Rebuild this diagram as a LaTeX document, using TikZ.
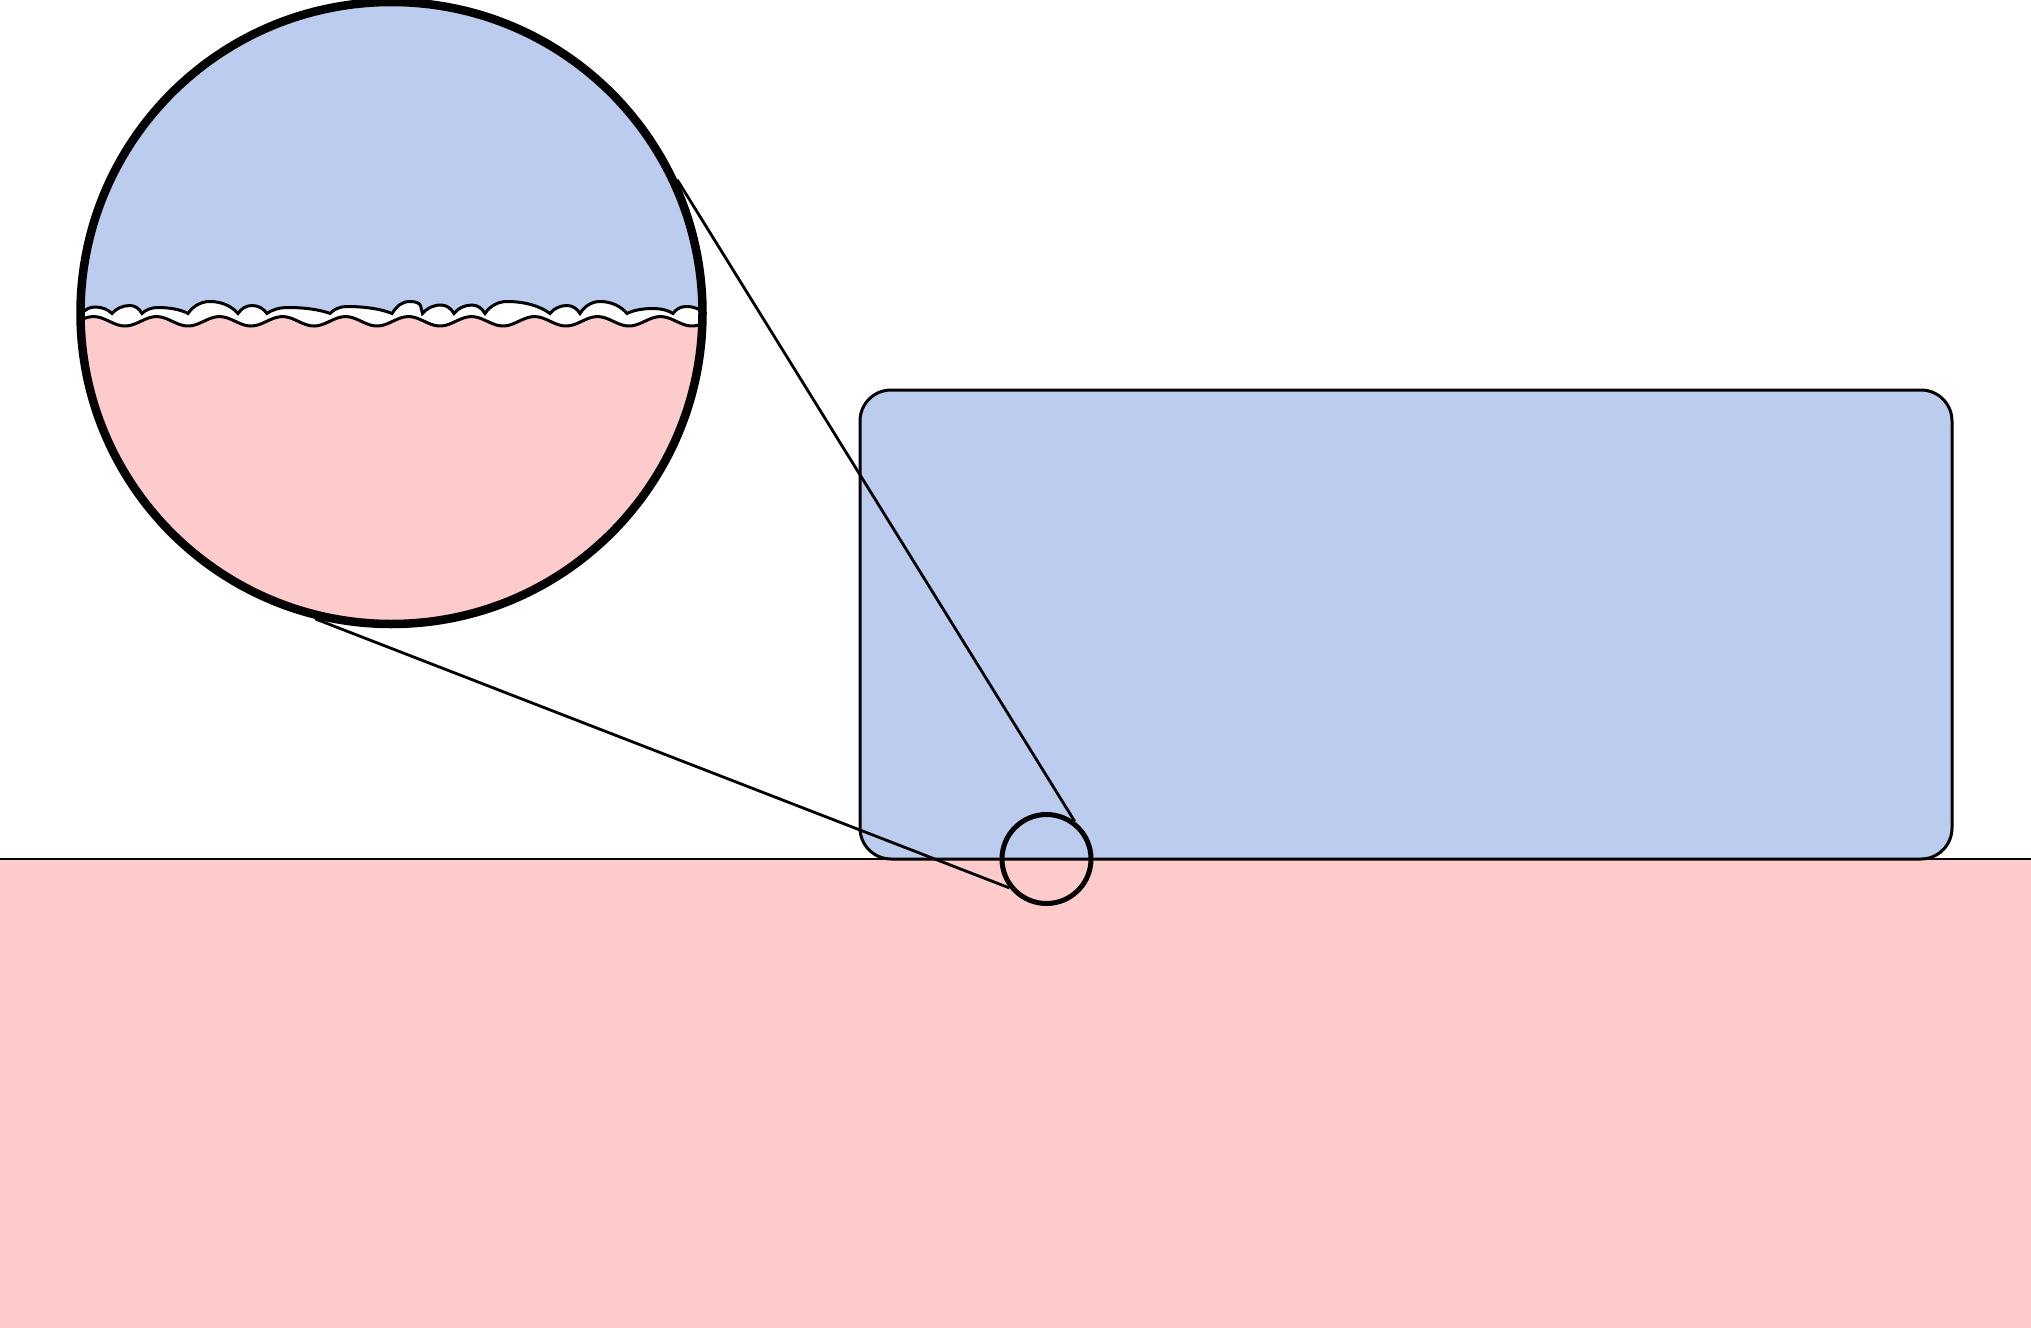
\documentclass[tikz,border=0pt]{standalone}
\usetikzlibrary{calc}
\definecolor{skyb}{HTML}{BCCCEE}
\definecolor{rosep}{HTML}{FDCBCB}
\def\bump#1#2#3#4{.. controls ({#1+0.22*(#2-#1)},{313.5-0.6*(313.5-#3)}) and ({#2-0.42*(#2-#1)},#3) .. (#2,#3) .. controls ({#2+0.42*(#4-#2)},#3) and ({#4-0.22*(#4-#2)},{313.5-0.6*(313.5-#3)}) .. (#4,313.5)}
\begin{document}
\begin{tikzpicture}[x=0.5pt,y=-0.5pt,
  thinline/.style={line width=1.4pt},
  waveline/.style={line width=1.5pt},
  lensbox/.style={circle,draw,line width=4.25pt,minimum size=311pt,inner sep=0pt},
  spotbox/.style={circle,draw,line width=2.5pt,minimum size=44.5pt,inner sep=0pt},
  blockbox/.style={draw,fill=skyb,line width=1.5pt,rounded corners=15.5pt,minimum width=546pt,minimum height=234.5pt,inner sep=0pt}]
\useasboundingbox (0,0) rectangle (2031,1328);
% ground
\fill[rosep] (0,859) rectangle (2031,1328);
% block
\node[blockbox] (block) at (1406,624.5) {};
\draw[thinline] (0,859) -- (2031,859);
% magnified view fill
\begin{scope}
  \clip (391.5,313) circle [radius=311];
  \fill[skyb] (60,-20) rectangle (720,700);
  \filldraw[fill=white,waveline] (60,313.5) -- (82,313.5)
    \bump{82}{95}{307}{112}
    \bump{112}{130}{305.5}{142}
    \bump{142}{158}{307.5}{188}
    \bump{188}{210}{301.5}{238}
    \bump{238}{252}{305.5}{267}
    \bump{267}{288}{307.5}{330}
    \bump{330}{347}{306.5}{392}
    .. controls (396,307) and (401,301.5) .. (410,301.5)
    .. controls (416,301.5) and (419,303) .. (420.5,305.5) -- (422.5,313.5)
    \bump{422.5}{441}{305}{454}
    \bump{454}{472}{305}{485}
    \bump{485}{507}{301.5}{550}
    \bump{550}{567}{305.5}{580}
    \bump{580}{600}{301.5}{627}
    \bump{627}{653}{308.5}{673}
    \bump{673}{686}{306.5}{705}
    -- (720,313.5) -- (720,700) -- (60,700) -- cycle;
  \filldraw[fill=rosep,waveline] plot[domain=60:720,samples=240,smooth] (\x,{321.3+4.7*cos(5.7143*(\x-125))}) -- (720,700) -- (60,700) -- cycle;
\end{scope}
\node[lensbox] (lens) at (391.5,313) {};
\node[spotbox] (spot) at (1046.5,859) {};
\draw[thinline] (lens.25) -- (spot.53);
\draw[thinline] (lens.256.3) -- (spot.218.8);
\end{tikzpicture}
\end{document}
